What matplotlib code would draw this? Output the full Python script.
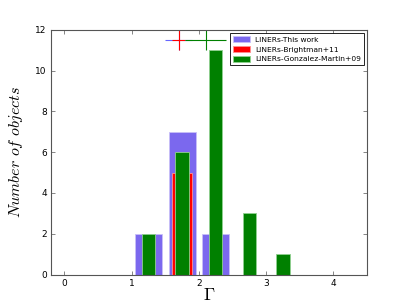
import numpy as np
import matplotlib.pyplot as plt

plt.rcParams["mathtext.fontset"] = "cm"

# bin edges for photon index Gamma
edges = np.arange(0, 4.51, 0.5)
centers = (edges[:-1] + edges[1:]) / 2

this_work = [0, 0, 2, 7, 2, 0, 0, 0, 0]
brightman = [0, 0, 0, 5, 0, 0, 0, 0, 0]
gonzalez = [0, 0, 2, 6, 11, 3, 1, 0, 0]

# mean Gamma with errors, shown at the top
means = {"blue": (1.7, 0.2), "red": (1.7, 0.1), "green": (2.1, 0.3)}
mean_y = 11.5

fig = plt.figure(figsize=(4.07, 3.05), dpi=100)
ax = fig.add_axes([0.125, 0.1, 0.777, 0.802])

ax.hist(centers, bins=edges, weights=this_work, rwidth=0.8,
        color="mediumslateblue", edgecolor="#c8c0f8", linewidth=0.6,
        label="LINERs-This work")
ax.hist(centers, bins=edges, weights=brightman, rwidth=0.6,
        color="red", edgecolor="#ff9090", linewidth=0.6,
        label="LINERs-Brightman+11")
ax.hist(centers, bins=edges, weights=gonzalez, rwidth=0.4,
        color="green", edgecolor="#90d090", linewidth=0.6,
        label="LINERs-Gonzalez-Martin+09")

for c, (m, e) in means.items():
    ax.errorbar(m, mean_y, xerr=e, yerr=0.5, color=c, linewidth=0.8,
                alpha=0.6 if c == "blue" else 1)

ax.set_xlim(-0.2, 4.5)
ax.set_ylim(0, 12)
ax.set_xticks([0, 1, 2, 3, 4])
ax.set_yticks(range(0, 13, 2))
ax.tick_params(direction="in", top=True, right=True, labelsize=6.5,
               length=3, width=0.5, color="#555555", pad=3)
for s in ax.spines.values():
    s.set_color("#555555")
    s.set_linewidth(0.8)

ax.set_xlabel(r"$\Gamma$", fontsize=13, labelpad=-1)
ax.set_ylabel(r"$Number\ of\ objects$", fontsize=11.5, labelpad=7)

leg = ax.legend(loc="upper right", fontsize=5.4, fancybox=False,
                framealpha=1, borderaxespad=0.45, handlelength=2.3,
                handleheight=0.8, labelspacing=0.45, borderpad=0.4,
                handletextpad=0.6)
leg.get_frame().set_edgecolor("black")
leg.get_frame().set_linewidth(0.6)

fig.savefig("out.png", dpi=100)
